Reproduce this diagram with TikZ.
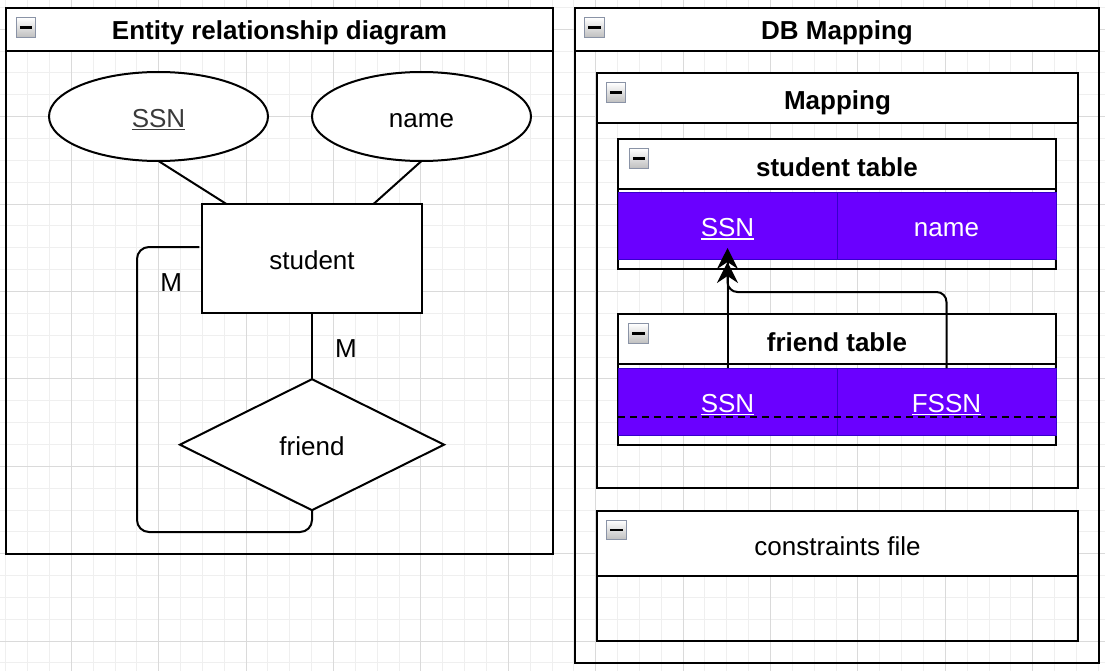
\documentclass[tikz,border=0pt]{standalone}
\usepackage{fontspec}
\setmainfont{Liberation Sans}
\usetikzlibrary{arrows.meta,shapes.geometric,calc}
\definecolor{purp}{HTML}{6A00FF}
\definecolor{purpline}{HTML}{3700CC}
\definecolor{ssngrey}{HTML}{3A3A3A}
\definecolor{iconborder}{HTML}{8A93A6}
\definecolor{gridminor}{HTML}{EFEFEF}
\definecolor{gridmajor}{HTML}{DADADA}
\newcommand{\myul}[1]{\setbox0\hbox{#1}\rlap{\rule[-3pt]{\wd0}{1.5pt}}\box0}
\begin{document}
\begin{tikzpicture}[x=1pt,y=-1pt,line width=2pt,
  every node/.style={inner sep=0pt,outer sep=0pt,text height=21.5pt,text depth=0pt,font=\fontsize{26}{30}\selectfont},
  panel/.style={draw,anchor=north west},
  hdr/.style={draw,fill=white,anchor=north west},
  title/.style={font=\fontsize{26}{30}\selectfont\bfseries},
  minus/.style={draw=iconborder,line width=1.3pt,top color=white,bottom color=gray!50,minimum size=19.5pt,text height=0pt,
    path picture={\draw[line width=2.6pt,black] ([xshift=3.5pt]path picture bounding box.west) -- ([xshift=-3.5pt]path picture bounding box.east);}},
  cell/.style={anchor=north west,fill=purp,draw=purpline,line width=1pt,text=white,minimum width=219pt,minimum height=66pt},
  arr/.style={-{Stealth[length=21pt,width=21pt,inset=7pt]},line width=2pt},
  dline/.style={line width=2pt,dash pattern=on 7pt off 5pt}]
\useasboundingbox (0,0) rectangle (1105,671);
\fill[white] (0,0) rectangle (1105,671);
% grid
\foreach \k in {0,...,50} \draw[gridminor,line width=1pt] ({5.75+21.85*\k},0) -- ({5.75+21.85*\k},671);
\foreach \k in {0,...,30} \draw[gridminor,line width=1pt] (0,{7.45+21.85*\k}) -- (1105,{7.45+21.85*\k});
\foreach \k in {0,...,11} \draw[gridmajor,line width=1pt] ({71.3+87.4*\k},0) -- ({71.3+87.4*\k},671);
\foreach \k in {0,...,7} \draw[gridmajor,line width=1pt] (0,{29.3+87.4*\k}) -- (1105,{29.3+87.4*\k});

% ===== Entity relationship diagram =====
\node[panel,minimum width=547pt,minimum height=546pt] (er) at (6,8) {};
\node[hdr,minimum width=547pt,minimum height=43pt] (erhdr) at (6,8) {};
\node[title] (ertitle) at ([yshift=1pt]erhdr.center) {Entity relationship diagram};
\node[minus] (ermin) at (26,27.5) {};

\node[draw,fill=white,ellipse,minimum width=219pt,minimum height=89pt,text=ssngrey] (ssn) at (158.5,116.5) {\myul{SSN}};
\node[draw,fill=white,ellipse,minimum width=219pt,minimum height=89pt] (name) at (421.5,116.5) {name};
\node[draw,fill=white,minimum width=220pt,minimum height=109pt] (student) at (312,258.7) {student};
\node[draw,fill=white,diamond,minimum width=264pt,minimum height=131pt] (friend) at (312,444.7) {friend};

\draw (ssn.south) -- ([xshift=24.7pt]student.north west);
\draw (name.south) -- ([xshift=171.3pt]student.north west);
\draw (student.south) -- (friend.north);
\coordinate (lp1) at (137,532);
\coordinate (lp2) at (137,247);
\coordinate (lpend) at (199.3,247);
\draw[rounded corners=12pt] (friend.south) |- (lp1) -- (lp2) -- (lpend);
\node (m1) at (171.3,281) {M};
\node (m2) at (346,346.5) {M};

% ===== DB Mapping =====
\node[panel,minimum width=524pt,minimum height=655pt] (db) at (575,8) {};
\node[hdr,minimum width=524pt,minimum height=43pt] (dbhdr) at (575,8) {};
\node[title] (dbtitle) at ([yshift=1pt]dbhdr.center) {DB Mapping};
\node[minus] (dbmin) at (594.5,27.5) {};

\node[panel,minimum width=481pt,minimum height=415pt] (map) at (597,73) {};
\node[hdr,minimum width=481pt,minimum height=50pt] (maphdr) at (597,73) {};
\node[title] (maptitle) at ([yshift=-0.5pt]maphdr.center) {Mapping};
\node[minus] (mapmin) at (616,92.5) {};

% student table
\node[panel,minimum width=438pt,minimum height=130pt] (stab) at (618,139) {};
\node[hdr,minimum width=438pt,minimum height=50pt] (stabhdr) at (618,139) {};
\node[title] (stabtitle) at ([yshift=-2pt]stabhdr.center) {student table};
\node[minus] (stabmin) at (639,158.5) {};
\node[cell] (sssn) at (618,193) {\myul{SSN}};
\node[cell] (sname) at (837,193) {name};

% friend table
\node[panel,minimum width=438pt,minimum height=131pt] (ftab) at (618,314) {};
\node[hdr,minimum width=438pt,minimum height=50pt] (ftabhdr) at (618,314) {};
\node[title] (ftabtitle) at ([yshift=-1.5pt]ftabhdr.center) {friend table};
\node[minus] (ftabmin) at (638.5,333.5) {};
\node[cell,minimum height=67pt] (fssn) at (618,368) {\myul{SSN}};
\node[cell,minimum height=67pt] (ffssn) at (837,368) {\myul{FSSN}};
\draw[dline] (618,417.3) -- (1056,417.3);

% constraints file
\node[panel,minimum width=481pt,minimum height=130pt] (cons) at (597,511) {};
\node[hdr,minimum width=481pt,minimum height=65pt] (conshdr) at (597,511) {};
\node (constitle) at ([yshift=-1pt]conshdr.center) {constraints file};
\node[minus] (consmin) at (616.5,530) {};

% foreign key arrows
\coordinate (tip1) at (727.5,248);
\coordinate (tip2) at (727.5,262);
\coordinate (bend) at (727.5,292);
\draw[arr] (fssn.north) -- (tip1);
\draw[arr,rounded corners=10pt] (ffssn.north) |- (bend) -- (tip2);
\end{tikzpicture}
\end{document}
